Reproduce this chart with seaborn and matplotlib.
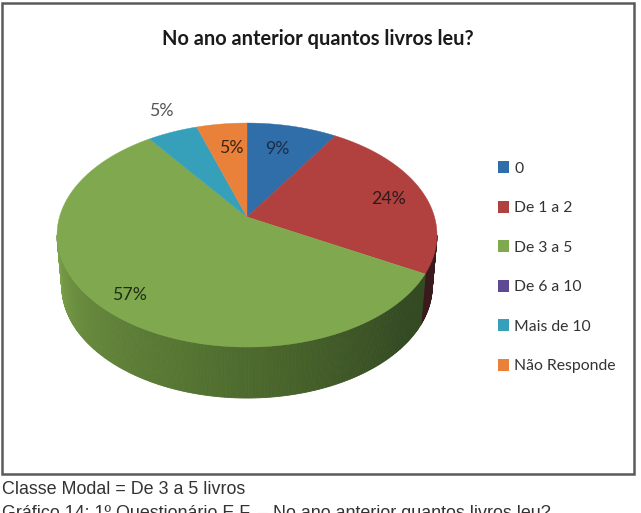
import numpy as np
import matplotlib
matplotlib.use("Agg")
import matplotlib.pyplot as plt
from matplotlib.colors import LinearSegmentedColormap
from matplotlib.patches import Patch, Rectangle
import seaborn as sns

# ---------- data ----------
title = "No ano anterior quantos livros leu?"
categories = ["0", "De 1 a 2", "De 3 a 5", "De 6 a 10", "Mais de 10", "Não Responde"]
values = [9, 24, 57, 0, 5, 5]
caption_1 = "Classe Modal = De 3 a 5 livros"
caption_2 = "Gráfico 14: 1º Questionário E.F. – No ano anterior quantos livros leu?"

# ---------- style ----------
colors = ["#2f6ea9", "#b0413e", "#80a94f", "#5d4a92", "#36a0ba", "#e9813a"]
sns.set_theme(style="white", palette=colors)
plt.rcParams["font.family"] = ["Lato", "DejaVu Sans"]

fig = plt.figure(figsize=(6.41, 5.13), dpi=100, facecolor="white")
ax = fig.add_axes([0, 0, 1, 1])
ax.set_xlim(0, 641)
ax.set_ylim(513, 0)
ax.axis("off")

# perspective disc: a unit circle projected so its centre lands on the apex
APEX_X, APEX_Y = 247, 217
A, B, K = 187.5, 109.1, 0.161
DEPTH, SHRINK = 51, 0.975


def project(theta):
    u, v = np.sin(theta), np.cos(theta)
    w = 1 + K * v
    return A * u / w, B * v / w


# chart frame
ax.add_patch(Rectangle((1.5, 3), 632, 471, fc="white", ec="#5a5a5a", lw=1.8, zorder=1))

# side wall, drawn as vertical strips shaded from left to right
edges = np.cumsum([0] + values) / sum(values) * 2 * np.pi
wall_green = LinearSegmentedColormap.from_list(
    "wall", ["#7ba24b", "#64863b", "#557532", "#455f29", "#334a22", "#344b23"])
silhouette = np.arcsin(K)
start, stop = np.pi / 2 + silhouette, 3 * np.pi / 2 - silhouette
steps = np.linspace(start, stop, 260)
for t0, t1 in zip(steps[:-1], steps[1:]):
    xs, ys = project(np.array([t0, t1]))
    tm = (t0 + t1) / 2
    if tm < edges[2]:
        shade = "#3b1a1d"
    else:
        shade = wall_green(1 - (tm - start) / (stop - start))
    ax.fill([APEX_X + xs[0], APEX_X + xs[1], APEX_X + xs[1] * SHRINK, APEX_X + xs[0] * SHRINK],
            [APEX_Y - ys[0], APEX_Y - ys[1], APEX_Y - ys[1] + DEPTH, APEX_Y - ys[0] + DEPTH],
            color=shade, lw=0.6, zorder=2)

# top face
for t0, t1, colour in zip(edges[:-1], edges[1:], colors):
    if t1 <= t0:
        continue
    px, py = project(np.linspace(t0, t1, 160))
    ax.fill(np.r_[APEX_X, APEX_X + px], np.r_[APEX_Y, APEX_Y - py],
            color=colour, lw=0.3, zorder=3)

# percentage labels
label_texts = [f"{v}%" for v in values if v > 0]
label_xy = [(277, 149), (388, 199), (129, 295), (161, 111), (231, 148)]
label_colors = ["#1d2c44", "#2e1a1a", "#1f2d14", "#555555", "#3a2412"]
for text, (lx, ly), lc in zip(label_texts, label_xy, label_colors):
    ax.text(lx, ly, text, ha="center", va="center", fontsize=12.8, color=lc, zorder=4)

# title
ax.text(317.5, 39, title, ha="center", va="center", fontsize=14.4,
        fontweight="bold", color="#1a1a1a", zorder=4)

# legend
handles = [Patch(fc=c, ec="none", label=n) for c, n in zip(colors, categories)]
ax.legend(handles=handles, loc="upper left", bbox_to_anchor=(495 / 641, 1 - 158 / 513),
          bbox_transform=fig.transFigure, frameon=False, fontsize=11.3,
          labelcolor="#333333", handlelength=0.72, handleheight=0.8, handletextpad=0.3,
          labelspacing=1.6, borderpad=0.2, borderaxespad=0)

# captions under the frame
ax.text(2, 489, caption_1, ha="left", va="center", fontsize=12.9,
        family="Liberation Sans", color="#333333", zorder=4)
ax.text(2, 513, caption_2, ha="left", va="center", fontsize=12.9,
        family="Liberation Sans", color="#333333", zorder=4)

fig.savefig("out.png", dpi=100)
